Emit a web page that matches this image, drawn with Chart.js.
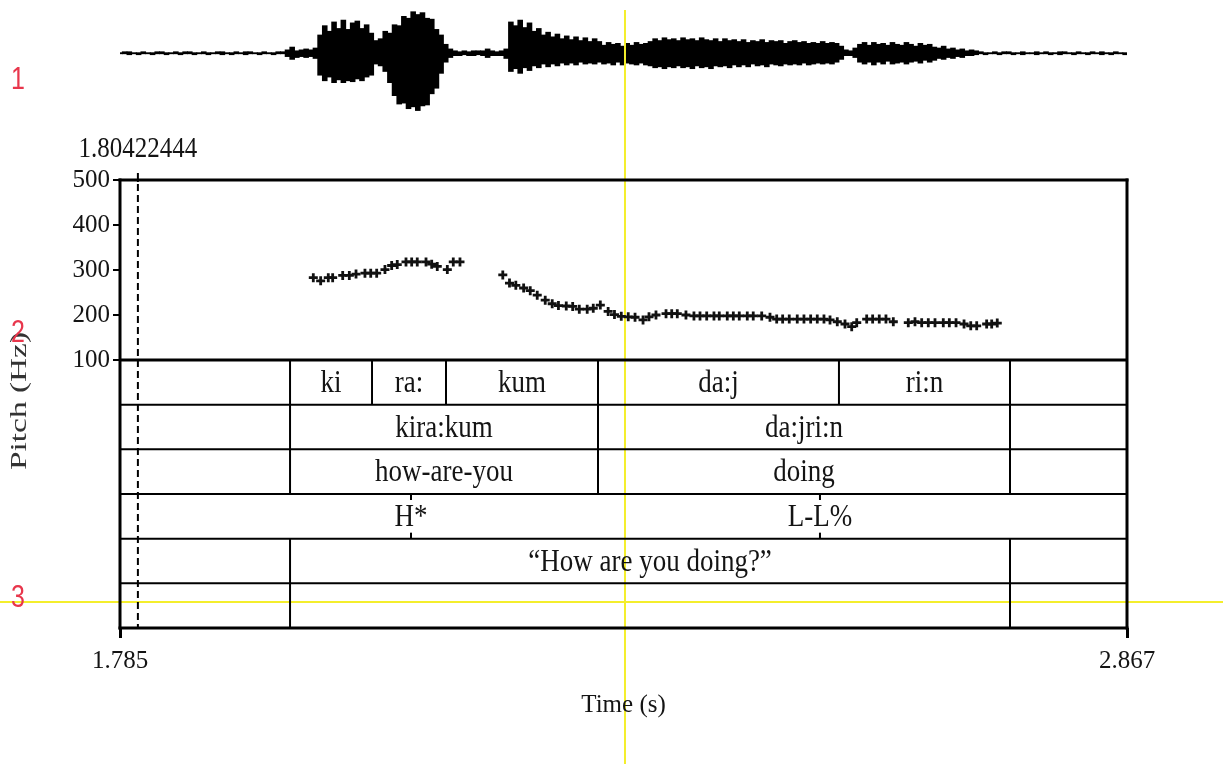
<!DOCTYPE html>
<html>
<head>
<meta charset="utf-8">
<title>kira:kum da:jri:n — pitch and annotation</title>
<script src="https://cdn.jsdelivr.net/npm/chart.js@4.4.1/dist/chart.umd.min.js"></script>
<style>
  html, body { margin: 0; padding: 0; background: #fff; }
  #wrap { position: relative; width: 1223px; height: 764px; overflow: hidden; background: #fff; }
  #wrap canvas { position: absolute; left: 0; top: 0; }
</style>
</head>
<body>
<div id="wrap">
  <canvas id="wave" width="1223" height="130"></canvas>
  <canvas id="main" width="1223" height="764"></canvas>
</div>
<script>
// ---- time window (s) ----
const timeStart = 1.785;
const timeEnd = 2.867;

// ---- waveform envelope, one sample every 5 ms from timeStart ----
const waveStep = 0.005;
const waveHi = [
  1,2,2,1,1,2,1,1,2,2, 1,1,2,1,2,2,1,1,2,1, 1,2,2,1,1,2,1,2,2,1, 1,2,1,1,2,2,
  4,7,3,4,5,4,6,
  20,30,24,34,27,36,26,33,35,27,31,22,14,
  16,24,22,31,30,40,38,45,42,44,38,37,26,20,10,5,
  3,2,3,2,3,3,3,5,3,2,3,5,
  34,30,36,28,33,24,27,20,23,18,21,16,19,15,18,14,17,13,16,
  13,9,12,10,11,8,11,9,12,10,11,
  13,16,14,17,15,16,14,17,15,16, 14,17,15,14,16,13,16,14,15,13,
  15,12,14,13,15,12,14,13,14,11, 13,14,12,13,11,12,11,13,11,12, 11,
  8,4,3,6,10,12,9,12,10,11, 9,12,10,9,12,10,8,11,9,10, 7,6,8,5,6,4,5,3,4,3,
  2,1,1,2,1,2,2,1,1,2, 1,1,2,1,2,1,1,2,2,1, 1,2,1,1,2,1,2,1,1,2, 1,1
];
const waveLo = [
  -1,-1,-2,-1,-2,-1,-1,-2,-1,-1, -2,-1,-1,-2,-1,-1,-2,-1,-1,-2, -1,-1,-2,-1,-2,-1,-1,-2,-1,-1, -2,-1,-1,-2,-1,-1,
  -4,-7,-5,-4,-5,-4,-6,
  -24,-30,-26,-32,-29,-32,-30,-31,-28,-30,-26,-24,-12,
  -14,-20,-32,-46,-55,-54,-60,-58,-62,-57,-56,-44,-38,-22,-10,-5,
  -3,-3,-2,-3,-3,-2,-3,-5,-3,-3,-3,-6,
  -20,-17,-22,-16,-19,-14,-16,-12,-15,-12,-14,-11,-13,-11,-13,-10,-12,-11,-12,
  -10,-12,-11,-13,-10,-13,-11,-12,-13,-11,-13,
  -14,-16,-15,-17,-15,-16,-14,-16,-15,-17, -14,-16,-15,-17,-14,-15,-14,-16,-13,-15,
  -13,-15,-12,-14,-13,-15,-12,-13,-14,-12, -13,-12,-13,-11,-13,-12,-11,-12,-11,-12, -10,
  -7,-3,-3,-5,-10,-12,-10,-13,-10,-12, -9,-12,-11,-10,-12,-10,-9,-11,-8,-10, -8,-6,-7,-5,-6,-4,-5,-3,-3,-2,
  -1,-2,-1,-1,-2,-1,-1,-2,-1,-2, -1,-1,-2,-1,-1,-2,-1,-2,-1,-1, -2,-1,-1,-2,-1,-1,-2,-1,-2,-1, -1,-2
];

// ---- pitch track (s, Hz) ----
const pitchTimes = [
  1.9927, 2.0006, 2.0088, 2.0135, 2.0243, 2.0314, 2.0386, 2.0482, 2.0544, 2.0608, 2.0697,
  2.0769, 2.0829, 2.0923, 2.0984, 2.1044, 2.1138, 2.1199, 2.1259, 2.1367, 2.1431, 2.1503,
  2.1963, 2.2035, 2.2103, 2.2187, 2.2258, 2.2333, 2.2419, 2.2494, 2.2561, 2.2645, 2.2714,
  2.2785, 2.2870, 2.2935, 2.3011, 2.3095, 2.3163, 2.3236, 2.3311, 2.3384, 2.3470, 2.3534,
  2.3609, 2.3717, 2.3778, 2.3838, 2.3931, 2.4017, 2.4082, 2.4154, 2.4232, 2.4289, 2.4375,
  2.4440, 2.4504, 2.4590, 2.4654, 2.4745, 2.4834, 2.4906, 2.4970, 2.5041, 2.5127, 2.5199,
  2.5271, 2.5342, 2.5414, 2.5479, 2.5557, 2.5640, 2.5712, 2.5766, 2.5873, 2.5937, 2.6008,
  2.6080, 2.6159,
  2.6320, 2.6392, 2.6464, 2.6535, 2.6607, 2.6696, 2.6761, 2.6833, 2.6919, 2.6991, 2.7055,
  2.7162, 2.7216, 2.7276
];
const pitchHz = [
  283, 276, 283, 283, 288, 288, 291, 293, 293, 293, 301,
  310, 312, 318, 318, 318, 318, 313, 308, 301, 318, 318,
  289, 271, 266, 260, 254, 244, 233, 225, 221, 220, 219,
  213, 213, 215, 222, 208, 201, 197, 196, 195, 189, 196,
  200, 203, 203, 203, 200, 198, 198, 198, 198, 198, 198,
  198, 198, 198, 198, 198, 195, 191, 191, 191, 191, 191,
  191, 191, 191, 189, 185, 180, 174, 183, 191, 191, 191,
  191, 185,
  183, 185, 183, 183, 183, 183, 183, 183, 180, 176, 176,
  180, 180, 182
];
const pitchTicks = [100, 200, 300, 400, 500];

// ---- annotation tiers (interval boundaries in s, one label per interval) ----
const syllableBounds = [1.9677, 2.0558, 2.1353, 2.2986, 2.5575, 2.7413];
const syllableLabels = ['', 'ki', 'ra:', 'kum', 'da:j', 'ri:n', ''];
const wordBounds = [1.9677, 2.2986, 2.7413];
const wordLabels = ['', 'kira:kum', 'da:jri:n', ''];
const glossBounds = [1.9677, 2.2986, 2.7413];
const glossLabels = ['', 'how-are-you', 'doing', ''];
const toneTimes = [2.0977, 2.5371];
const toneLabels = ['H*', 'L-L%'];
const sentenceBounds = [1.9677, 2.7413];
const sentenceLabels = ['', '\u201CHow are you doing?\u201D', ''];
const extraBounds = [1.9677, 2.7413];
const extraLabels = ['', '', ''];

// ---- markers ----
const markTime = 1.80422444;
const markLabel = '1.80422444';
const cursorTime = 2.3276;
const cursorTier = 5.42;
const paneNumbers = ['1', '2', '3'];

const SERIF = '"Liberation Serif", "Times New Roman", serif';
const INK = '#141414';

function stretchedText(ctx, str, x, y, size, sy, align) {
  ctx.save();
  ctx.translate(x, y);
  ctx.scale(1, sy);
  ctx.font = size + 'px ' + SERIF;
  ctx.textAlign = align || 'center';
  ctx.textBaseline = 'middle';
  ctx.fillStyle = INK;
  ctx.fillText(str, 0, 0);
  ctx.restore();
}

function hLine(ctx, x1, x2, y, w) {
  ctx.beginPath(); ctx.lineWidth = w; ctx.moveTo(x1, y); ctx.lineTo(x2, y); ctx.stroke();
}
function vLine(ctx, x, y1, y2, w) {
  ctx.beginPath(); ctx.lineWidth = w; ctx.moveTo(x, y1); ctx.lineTo(x, y2); ctx.stroke();
}

const frameAndTiers = {
  id: 'frameAndTiers',
  beforeDraw(chart) {
    // yellow selection cursors, underneath everything else
    const ctx = chart.ctx, xs = chart.scales.x, ts = chart.scales.tiers;
    const cx = xs.getPixelForValue(cursorTime);
    const cy = ts.getPixelForValue(cursorTier);
    ctx.save();
    ctx.strokeStyle = '#f4ee2c';
    vLine(ctx, cx, 10, chart.height, 2);
    hLine(ctx, 0, chart.width, cy, 2);
    ctx.restore();
  },
  beforeDatasetsDraw(chart) {
    const ctx = chart.ctx, ca = chart.chartArea;
    const xs = chart.scales.x, ys = chart.scales.y, ts = chart.scales.tiers;
    const L = ca.left, R = ca.right;
    ctx.save();
    ctx.strokeStyle = '#000';

    // interval tiers
    const intervalTiers = [
      [0, syllableBounds, syllableLabels],
      [1, wordBounds, wordLabels],
      [2, glossBounds, glossLabels],
      [4, sentenceBounds, sentenceLabels],
      [5, extraBounds, extraLabels]
    ];
    intervalTiers.forEach(([row, bounds, labels]) => {
      const top = ts.getPixelForValue(row), bot = ts.getPixelForValue(row + 1);
      const edges = [timeStart].concat(bounds, [timeEnd]);
      bounds.forEach(b => vLine(ctx, xs.getPixelForValue(b), top, bot, 2));
      labels.forEach((lab, k) => {
        if (!lab) return;
        const x0 = xs.getPixelForValue(edges[k]), x1 = xs.getPixelForValue(edges[k + 1]);
        stretchedText(ctx, lab, (x0 + x1) / 2, (top + bot) / 2 + 1, 27, 1.2);
      });
    });

    // point tier (tones)
    {
      const top = ts.getPixelForValue(3), bot = ts.getPixelForValue(4);
      toneTimes.forEach((t, k) => {
        const x = xs.getPixelForValue(t);
        vLine(ctx, x, top, top + 6, 2);
        vLine(ctx, x, bot - 6, bot, 2);
        stretchedText(ctx, toneLabels[k], x, (top + bot) / 2 + 1, 27, 1.2);
      });
    }

    // tier separators
    for (let r = 1; r < 6; r++) hLine(ctx, L, R, ts.getPixelForValue(r), 2);

    // outer frame
    hLine(ctx, L - 1.5, R + 1.5, ca.top, 3);
    hLine(ctx, L, R, ys.bottom, 3);
    hLine(ctx, L - 1.5, R + 1.5, ca.bottom, 3);
    vLine(ctx, L, ca.top - 1.5, ca.bottom + 1.5, 3);
    vLine(ctx, R, ca.top - 1.5, ca.bottom + 1.5, 3);

    // dashed time mark
    const mx = xs.getPixelForValue(markTime);
    ctx.save();
    ctx.setLineDash([7, 4]);
    vLine(ctx, mx, ca.top + 4, ca.bottom, 2);
    ctx.restore();
    vLine(ctx, mx, ca.top - 7, ca.top + 2, 2);
    stretchedText(ctx, markLabel, mx, ca.top - 31, 25, 1.2);

    // vertical axis title across both panes
    ctx.save();
    ctx.translate(20, (ca.top + ca.bottom) / 2 - 3);
    ctx.rotate(-Math.PI / 2);
    ctx.scale(1.45, 1);
    ctx.font = '23px ' + SERIF;
    ctx.textAlign = 'center';
    ctx.textBaseline = 'middle';
    ctx.fillStyle = '#333';
    ctx.fillText('Pitch (Hz)', 0, 0);
    ctx.restore();

    // pane numbers in the left margin
    const numberY = [80, 333, 598];
    paneNumbers.forEach((n, k) => {
      ctx.save();
      ctx.translate(18, numberY[k]);
      ctx.scale(1, 1.25);
      ctx.font = '25px "Liberation Sans", Arial, sans-serif';
      ctx.textAlign = 'center';
      ctx.textBaseline = 'middle';
      ctx.fillStyle = '#e8364c';
      ctx.fillText(n, 0, 0);
      ctx.restore();
    });
    ctx.restore();
  }
};

// ---- waveform: one floating bar per sample, from trough to crest ----
new Chart(document.getElementById('wave'), {
  type: 'bar',
  data: {
    datasets: [{
      data: waveHi.map((v, i) => ({ x: timeStart + i * waveStep, y: [waveLo[i], v] })),
      backgroundColor: '#000', borderWidth: 0,
      barPercentage: 1.2, categoryPercentage: 1
    }]
  },
  options: {
    responsive: false, animation: false, events: [],
    layout: { padding: { left: 120, right: 96, top: 3, bottom: 7 } },
    plugins: { legend: { display: false }, tooltip: { enabled: false } },
    scales: {
      x: { type: 'linear', min: timeStart, max: timeEnd, display: false, offset: false },
      y: { type: 'linear', min: -75, max: 54, display: false }
    }
  }
});

// ---- pitch pane + annotation tiers ----
new Chart(document.getElementById('main'), {
  type: 'scatter',
  data: {
    datasets: [{
      data: pitchTimes.map((t, i) => ({ x: t, y: pitchHz[i] })),
      xAxisID: 'x', yAxisID: 'y',
      pointStyle: 'cross', pointRadius: 4.5, pointBorderWidth: 2.8,
      borderColor: '#111', backgroundColor: '#111', showLine: false
    }]
  },
  options: {
    responsive: false, animation: false, events: [],
    layout: { padding: { top: 180, right: 96, left: 0, bottom: 0 } },
    plugins: { legend: { display: false }, tooltip: { enabled: false } },
    scales: {
      tiers: {
        type: 'linear', position: 'left', stack: 'panes', stackWeight: 268,
        min: 0, max: 6, reverse: true,
        ticks: { display: false }, grid: { display: false }, border: { display: false },
        afterFit(s) { s.width = 120; }
      },
      y: {
        type: 'linear', position: 'left', stack: 'panes', stackWeight: 180,
        min: 100, max: 500,
        afterBuildTicks(s) { s.ticks = pitchTicks.map(v => ({ value: v })); },
        ticks: { autoSkip: false, font: { family: SERIF, size: 25 }, color: INK, padding: 3 },
        grid: { drawOnChartArea: false, tickLength: 7, lineWidth: 2, color: '#000' },
        border: { display: false },
        afterFit(s) { s.width = 120; }
      },
      x: {
        type: 'linear', position: 'bottom', min: timeStart, max: timeEnd,
        afterBuildTicks(s) { s.ticks = [{ value: timeStart }, { value: timeEnd }]; },
        ticks: {
          autoSkip: false, maxRotation: 0, padding: 8,
          font: { family: SERIF, size: 25 }, color: INK,
          callback: v => Number(v).toFixed(3)
        },
        grid: { drawOnChartArea: false, tickLength: 10, lineWidth: 3, color: '#000' },
        border: { display: false },
        title: {
          display: true, text: 'Time (s)', color: INK,
          font: { family: SERIF, size: 25 }, padding: { top: 0, bottom: 44 }
        },
        afterFit(s) { s.height = 136; }
      }
    }
  },
  plugins: [frameAndTiers]
});
</script>
</body>
</html>
